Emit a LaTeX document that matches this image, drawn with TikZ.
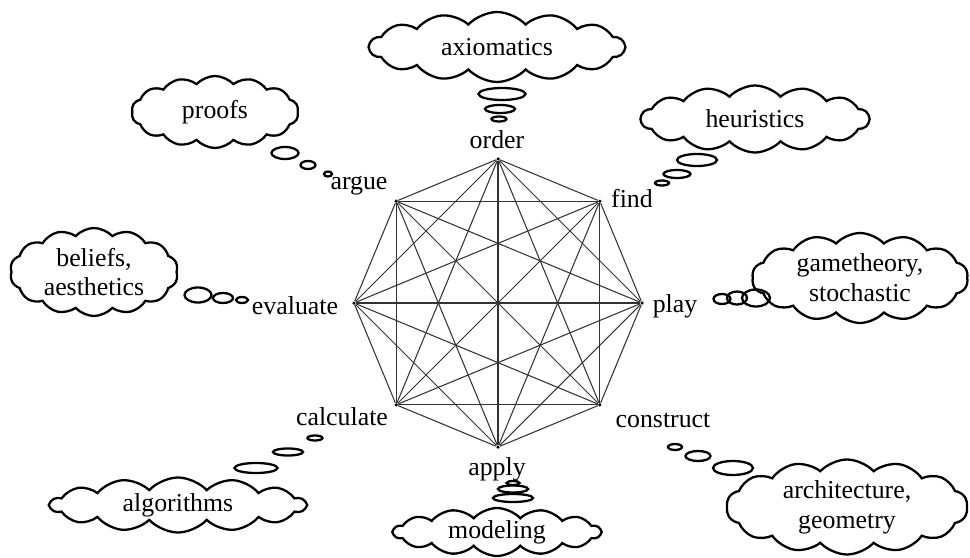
\documentclass[tikz,border=0pt]{standalone}
\usepackage{fontspec}
\setmainfont{Liberation Serif}
\usetikzlibrary{shapes.symbols}

\begin{document}
\begin{tikzpicture}[line width=0.6pt,
  font=\fontsize{14.7}{17}\selectfont,
  vertex/.style={circle, fill, inner sep=0pt, minimum size=0.07cm},
  edge/.style={black!80, line width=0.6pt},
  thought/.style={cloud, cloud puffs=14, cloud puff arc=95, cloud ignores aspect, draw, line width=1.3pt, align=center, inner sep=0pt},
  bubble/.style={line width=1.3pt}]
  \useasboundingbox (-9.960,-5.080) rectangle (9.440,6.060);
  % octagon, every corner joined to every other
  \foreach \i in {0,...,7}
    \node[vertex] (v\i) at (\i*45:2.880) {};
  \foreach \i in {0,...,6} {
    \pgfmathtruncatemacro\k{\i+1}
    \foreach \j in {\k,...,7}
      \draw[edge] (v\i) -- (v\j);
  }
  % words at the corners
  \node (play) at (3.540,-0.060) {play};
  \node (find) at (2.680,2.080) {find};
  \node (order) at (-0.020,3.260) {order};
  \node (argue) at (-2.780,2.340) {argue};
  \node (evaluate) at (-4.060,-0.060) {evaluate};
  \node (calculate) at (-3.120,-2.280) {calculate};
  \node (apply) at (-0.020,-3.320) {apply};
  \node (construct) at (3.300,-2.340) {construct};
  % clouds
  \node[thought, minimum width=5.10cm, minimum height=1.40cm] (axiomatics) at (-0.020,5.120) {axiomatics};
  \node[thought, minimum width=4.56cm, minimum height=1.34cm] (heuristics) at (5.140,3.680) {heuristics};
  \node[thought, minimum width=4.32cm, minimum height=1.80cm] (gametheory) at (7.240,0.500) {gametheory,\\stochastic};
  \node[thought, minimum width=4.82cm, minimum height=1.90cm] (architecture) at (6.980,-4.080) {architecture,\\geometry};
  \node[thought, minimum width=4.14cm, minimum height=0.96cm] (modeling) at (-0.020,-4.580) {modeling};
  \node[thought, minimum width=5.10cm, minimum height=1.10cm] (algorithms) at (-6.400,-4.040) {algorithms};
  \node[thought, minimum width=3.36cm, minimum height=1.76cm] (beliefs) at (-8.080,0.620) {beliefs,\\aesthetics};
  \node[thought, minimum width=3.34cm, minimum height=1.44cm] (proofs) at (-5.660,3.820) {proofs};
  % bubbles
  \draw[bubble] (0.080,4.180) ellipse (0.47 and 0.12);
  \draw[bubble] (0.040,3.880) ellipse (0.30 and 0.08);
  \draw[bubble] (0.020,3.680) ellipse (0.15 and 0.05);
  \draw[bubble] (3.980,2.860) ellipse (0.40 and 0.12);
  \draw[bubble] (3.580,2.580) ellipse (0.27 and 0.08);
  \draw[bubble] (3.280,2.400) ellipse (0.14 and 0.05);
  \draw[bubble] (4.480,0.080) ellipse (0.17 and 0.10);
  \draw[bubble] (4.780,0.100) ellipse (0.20 and 0.13);
  \draw[bubble] (5.160,0.100) ellipse (0.28 and 0.17);
  \draw[bubble] (3.540,-2.880) ellipse (0.14 and 0.06);
  \draw[bubble] (4.000,-3.060) ellipse (0.25 and 0.10);
  \draw[bubble] (4.700,-3.300) ellipse (0.40 and 0.14);
  \draw[bubble] (0.300,-3.600) ellipse (0.13 and 0.04);
  \draw[bubble] (0.300,-3.720) ellipse (0.30 and 0.07);
  \draw[bubble] (0.300,-3.900) ellipse (0.40 and 0.08);
  \draw[bubble] (-3.660,-2.700) ellipse (0.15 and 0.05);
  \draw[bubble] (-4.200,-2.980) ellipse (0.30 and 0.07);
  \draw[bubble] (-4.840,-3.300) ellipse (0.43 and 0.10);
  \draw[bubble] (-6.000,0.160) ellipse (0.27 and 0.15);
  \draw[bubble] (-5.500,0.100) ellipse (0.20 and 0.10);
  \draw[bubble] (-5.120,0.060) ellipse (0.12 and 0.06);
  \draw[bubble] (-4.260,3.000) ellipse (0.27 and 0.12);
  \draw[bubble] (-3.800,2.760) ellipse (0.15 and 0.08);
  \draw[bubble] (-3.400,2.580) ellipse (0.08 and 0.05);
\end{tikzpicture}
\end{document}
